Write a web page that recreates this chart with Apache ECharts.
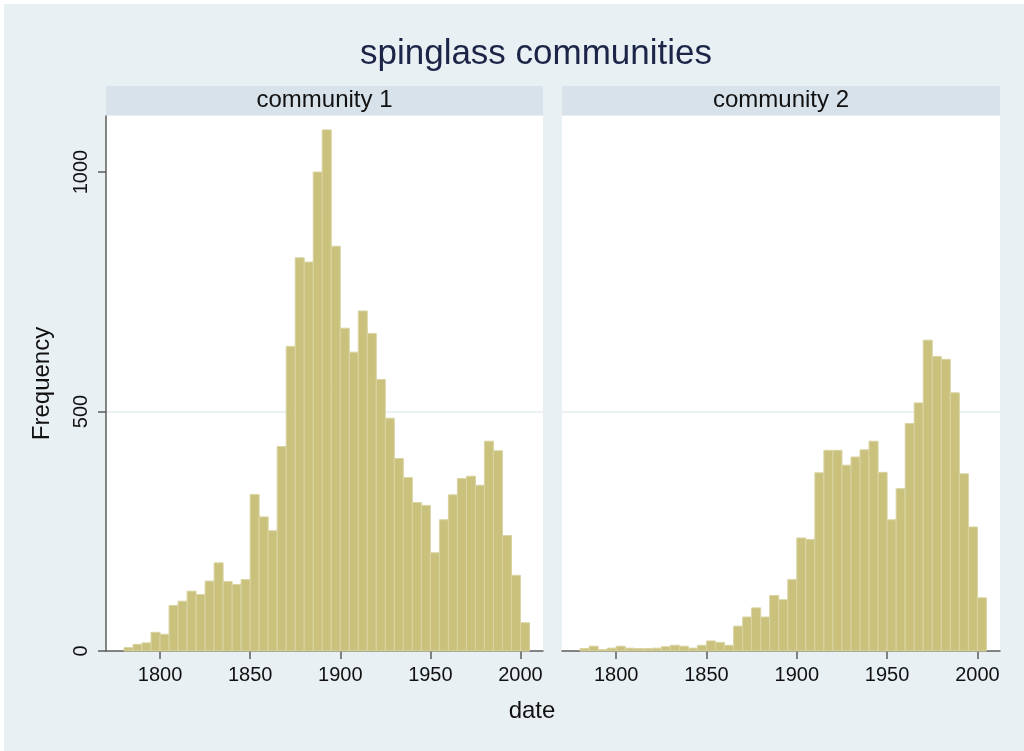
<!DOCTYPE html>
<html>
<head>
<meta charset="utf-8">
<script src="https://cdn.jsdelivr.net/npm/echarts@6/dist/echarts.min.js"></script>
<style>
  html, body { margin: 0; padding: 0; background: #fff; }
  #chart { width: 1024px; height: 751px; }
</style>
</head>
<body>
<div id="chart"></div>
<script>
// Faceted histogram (Stata look): date counts per spinglass community, 5-year bins.
const BIN_START = 1780;
const BIN_WIDTH = 5;
const panelNames = ['community 1', 'community 2'];
const community1 = [
  7, 14, 17, 39, 35, 95, 104, 125, 118, 146,
  184, 145, 139, 149, 327, 280, 251, 427, 636, 821,
  812, 1000, 1088, 845, 674, 624, 710, 663, 567, 486,
  402, 362, 310, 304, 205, 274, 326, 360, 365, 346,
  438, 418, 241, 158, 59
];
const community2 = [
  5, 10, 3, 6, 10, 6, 5, 5, 6, 9,
  12, 10, 6, 12, 21, 18, 12, 52, 71, 90,
  71, 116, 107, 149, 236, 233, 372, 419, 419, 388,
  405, 420, 438, 373, 274, 339, 475, 518, 649, 615,
  609, 539, 370, 259, 111
];
const xTicks = [1800, 1850, 1900, 1950, 2000];
const yTicks = [0, 500, 1000];

const X_MIN = 1770, X_MAX = 2012.5, Y_MAX = 1117;
const FONT = 'Liberation Sans, Arial, sans-serif';
const BAR_FILL = '#c9c17c';
const BAR_EDGE = '#d9d4a3';
const GRID_LINE = '#e6edf1';
const AXIS_GRAY = '#5c5c5c';

const grids = [
  { left: 106, top: 116, width: 437, height: 535 },
  { left: 562, top: 116, width: 438, height: 535 },
];

function binsOf(counts) {
  return counts.map((c, i) => [BIN_START + i * BIN_WIDTH, BIN_START + (i + 1) * BIN_WIDTH, c]);
}

function renderBar(params, api) {
  const top = api.coord([api.value(0), api.value(2)]);
  const base = api.coord([api.value(1), 0]);
  return {
    type: 'rect',
    shape: { x: top[0], y: top[1], width: base[0] - top[0], height: base[1] - top[1] },
    style: { fill: BAR_FILL, stroke: BAR_EDGE, lineWidth: 1 },
  };
}

const chart = echarts.init(document.getElementById('chart'), null, { renderer: 'canvas' });

const strips = [];
grids.forEach((g, i) => {
  strips.push({
    type: 'rect', left: g.left, top: 86,
    shape: { width: g.width, height: 29 },
    style: { fill: '#d7e2ea' }, z: 1,
  });
  strips.push({
    type: 'text', x: g.left + g.width / 2, y: 100.5,
    style: { text: panelNames[i], fill: '#111', font: '24px ' + FONT, textAlign: 'center', textVerticalAlign: 'middle' },
    z: 2,
  });
});

chart.setOption({
  backgroundColor: '#fff',
  animation: false,
  textStyle: { fontFamily: FONT },
  title: {
    text: 'spinglass communities',
    left: 531, top: 32, textAlign: 'center',
    textStyle: { color: '#1c2548', fontSize: 35, fontWeight: 'normal', fontFamily: FONT },
  },
  graphic: [
    { type: 'rect', left: 4, top: 4, shape: { width: 1020, height: 747 }, style: { fill: '#e9f0f3' }, z: -10, silent: true },
    { type: 'rect', left: grids[0].left, top: grids[0].top, shape: { width: grids[0].width, height: grids[0].height }, style: { fill: '#fff' }, z: -9 },
    { type: 'rect', left: grids[1].left, top: grids[1].top, shape: { width: grids[1].width, height: grids[1].height }, style: { fill: '#fff' }, z: -9 },
    ...strips,
    {
      type: 'text', x: 532, y: 711,
      style: { text: 'date', fill: '#111', font: '24px ' + FONT, textAlign: 'center', textVerticalAlign: 'middle' },
    },
  ],
  grid: grids.map((g) => ({ left: g.left, top: g.top, width: g.width, height: g.height, containLabel: false })),
  xAxis: grids.map((g, i) => ({
    type: 'value', gridIndex: i, min: X_MIN, max: X_MAX,
    axisLine: { show: true, onZero: false, lineStyle: { color: AXIS_GRAY, width: 1.5 } },
    axisTick: { show: true, length: 8, customValues: xTicks, lineStyle: { color: AXIS_GRAY, width: 1.5 } },
    axisLabel: { customValues: xTicks, formatter: (v) => String(v), color: '#111', fontSize: 20, margin: 14, fontFamily: FONT },
    splitLine: { show: false },
  })),
  yAxis: grids.map((g, i) => ({
    type: 'value', gridIndex: i, min: 0, max: Y_MAX, interval: 500,
    axisLine: { show: i === 0, lineStyle: { color: AXIS_GRAY, width: 1.5 } },
    axisTick: { show: i === 0, length: 8, customValues: yTicks, lineStyle: { color: AXIS_GRAY, width: 1.5 } },
    axisLabel: { show: i === 0, customValues: yTicks, formatter: (v) => String(v), rotate: 90, color: '#111', fontSize: 20, margin: 15, fontFamily: FONT },
    splitLine: { show: true, showMinLine: false, showMaxLine: false, lineStyle: { color: GRID_LINE, width: 1.5 } },
    name: i === 0 ? 'Frequency' : '',
    nameLocation: 'middle', nameGap: 52,
    nameTextStyle: { color: '#111', fontSize: 24, fontFamily: FONT },
  })),
  series: [community1, community2].map((counts, i) => ({
    type: 'custom', xAxisIndex: i, yAxisIndex: i,
    renderItem: renderBar,
    encode: { x: [0, 1], y: 2 },
    data: binsOf(counts),
  })),
});
</script>
</body>
</html>
